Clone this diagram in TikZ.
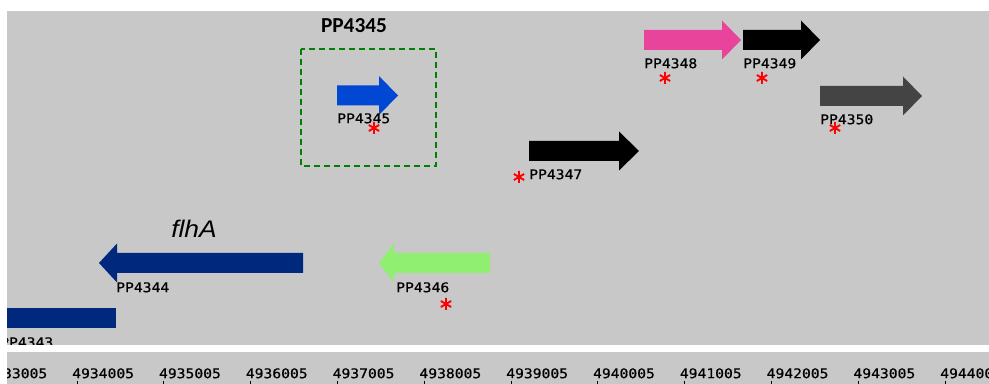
\documentclass[tikz,border=0pt]{standalone}
\usepackage{fontspec}
\newfontfamily\labfont[FakeStretch=1.1,FakeBold=0.6]{DejaVu Sans Mono}
\newfontfamily\titlefont{Carlito}
\newfontfamily\genefont[FakeStretch=1.1]{Liberation Sans}
\definecolor{bggray}{RGB}{200,200,200}
\definecolor{geneblue}{RGB}{0,71,212}
\definecolor{genepink}{RGB}{232,68,155}
\definecolor{genegreen}{RGB}{144,238,112}
\definecolor{genenavy}{RGB}{0,40,125}
\definecolor{genedark}{RGB}{68,68,68}
\definecolor{boxgreen}{RGB}{0,128,0}
\newcommand\genearrow[5]{\fill[#5] (#1,{#4-10}) -- (#2,{#4-10}) -- (#2,{#4-19.5}) -- (#3,#4) -- (#2,{#4+19.5}) -- (#2,{#4+10}) -- (#1,{#4+10}) -- cycle;}
\tikzset{
  lab/.style={font=\labfont\fontsize{10}{10}\selectfont, anchor=north west, inner sep=0pt},
  redstar/.pic={\draw[red, line width=1.4pt] (0,-6) -- (0,6) (-5.2,-3) -- (5.2,3) (-5.2,3) -- (5.2,-3);}
}
\begin{document}
\begin{tikzpicture}[x=0.75pt,y=-0.75pt]
\useasboundingbox (0,0) rectangle (989,384);
\fill[white] (0,0) rectangle (989,384);
\fill[bggray] (7,11) rectangle (989,345);
\fill[bggray] (7,352) rectangle (989,384);
% dashed highlight box and title
\draw[boxgreen, line width=1.2pt, dash pattern=on 4.5pt off 3pt] (301,49) rectangle (436,166);
\node[font=\titlefont\bfseries\fontsize{16}{16}\selectfont, anchor=base, inner sep=0pt] (title) at (354,33) {PP4345};
% genes pointing right
\genearrow{337}{379}{398}{95.5}{geneblue}
\genearrow{644}{722}{741}{40}{genepink}
\genearrow{743}{801}{820}{40}{black}
\genearrow{820}{903}{922}{96}{genedark}
\genearrow{529}{619}{639}{151}{black}
% genes pointing left
\genearrow{303}{117}{99}{263}{genenavy}
\genearrow{490}{394}{379}{263}{genegreen}
% labels
\node[lab] (l4345) at (337,113) {PP4345};
\node[lab] (l4348) at (644,58) {PP4348};
\node[lab] (l4349) at (743,58) {PP4349};
\node[lab] (l4350) at (820,114) {PP4350};
\node[lab] (l4347) at (529,169) {PP4347};
\node[lab] (l4344) at (116,282) {PP4344};
\node[lab] (l4346) at (396,282) {PP4346};
\node[font=\genefont\itshape\fontsize{18}{18}\selectfont, anchor=base west, inner sep=0pt] (flhA) at (171,238) {flhA};
% clipped gene at the left edge
\begin{scope}
\clip (7,11) rectangle (989,345);
\fill[genenavy] (0,308) rectangle (116,328);
\node[lab] (l4343) at (0,337) {PP4343};
\end{scope}
% asterisks
\pic at (374,128) {redstar};
\pic at (665,78) {redstar};
\pic at (762,78) {redstar};
\pic at (835,128) {redstar};
\pic at (519,177) {redstar};
\pic at (446,304) {redstar};
% axis
\begin{scope}
\clip (7,352) rectangle (989,384);
\foreach \i in {0,...,11}{
  \pgfmathsetmacro\tx{-9.8+86.8*\i}
  \draw[black, line width=0.75pt] (\tx,381) -- (\tx,385);
  \node[lab] (ax\i) at (\tx-5,368) {49\the\numexpr33+\i\relax005};
}
\end{scope}
\end{tikzpicture}
\end{document}
